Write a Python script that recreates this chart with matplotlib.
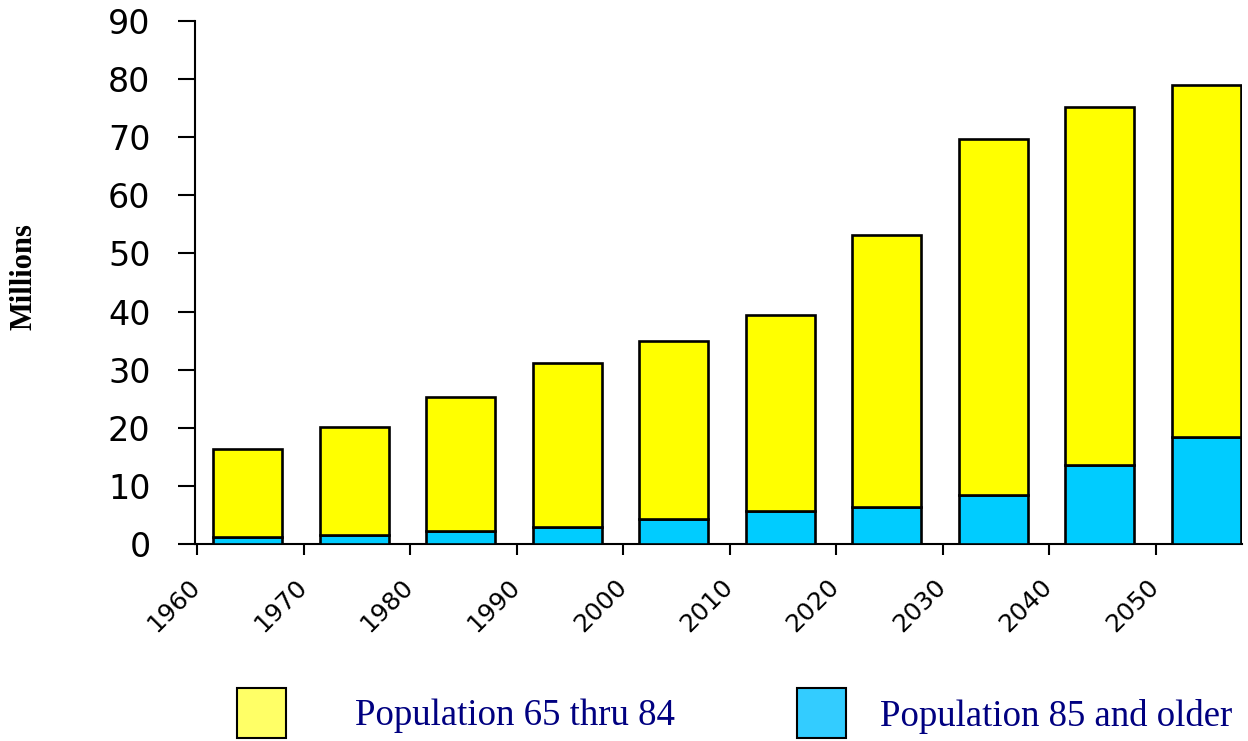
import numpy as np
import matplotlib
matplotlib.use("Agg")
import matplotlib.pyplot as plt
from matplotlib.patches import Rectangle
import matplotlib.transforms as mtransforms

# Population of older Americans, by decade (millions)
years = ["1960", "1970", "1980", "1990", "2000", "2010", "2020", "2030", "2040", "2050"]
pop_85_plus = [1.2, 1.5, 2.2, 2.9, 4.3, 5.7, 6.4, 8.4, 13.6, 18.4]
pop_65_84 = [15.1, 18.6, 23.1, 28.2, 30.6, 33.7, 46.8, 61.3, 61.6, 60.6]
yticks = [0, 10, 20, 30, 40, 50, 60, 70, 80, 90]

legend_labels = ["Population 65 thru 84", "Population 85 and older"]

fig = plt.figure(figsize=(12.48, 7.41), dpi=100)
ax = fig.add_axes([195 / 1248, (741 - 544) / 741, (1242 - 195) / 1248, (544 - 21) / 741])

x = np.arange(len(years))
offset, width = 0.15, 0.65
ax.bar(x + offset, pop_85_plus, width=width, align="edge", color="#00CCFF",
       edgecolor="black", linewidth=1.9, zorder=3)
ax.bar(x + offset, pop_65_84, width=width, bottom=pop_85_plus, align="edge",
       color="#FFFF00", edgecolor="black", linewidth=1.9, zorder=3)

ax.set_xlim(-0.02, 9.81)
ax.set_ylim(0, 90)
ax.set_yticks(yticks)
ax.set_yticklabels([str(v) for v in yticks], fontsize=24, family="DejaVu Sans")
ax.tick_params(axis="y", direction="out", length=12, width=1.5, pad=20)

ax.set_xticks(x)
ax.set_xticklabels(years, rotation=45, ha="right", va="top", fontsize=18,
                   family="DejaVu Sans")
ax.tick_params(axis="x", direction="out", length=8, width=1.5, pad=14)
shift = mtransforms.ScaledTranslation(8 / 100, 0, fig.dpi_scale_trans)
for lbl in ax.get_xticklabels():
    lbl.set_transform(lbl.get_transform() + shift)

for side in ("top", "right"):
    ax.spines[side].set_visible(False)
for side in ("left", "bottom"):
    ax.spines[side].set_linewidth(1.5)

fig.text(24 / 1248, 1 - 277 / 741, "Millions", rotation=90, ha="center", va="center",
         fontsize=22, fontweight="bold", family="Liberation Serif")

# Legend drawn in figure coordinates
W, H = 1248, 741
swatches = [(237, "#FFFF66"), (797, "#33CCFF")]
text_x = [355, 880]
for (sx, col), tx, lab in zip(swatches, text_x, legend_labels):
    fig.patches.append(Rectangle((sx / W, 1 - 738 / H), 49 / W, 50 / H,
                                 transform=fig.transFigure, facecolor=col,
                                 edgecolor="black", linewidth=1.5))
    fig.text(tx / W, 1 - 716 / H, lab, ha="left", va="center", fontsize=26.5,
             color="#000080", family="Liberation Serif")

fig.savefig("out.png", dpi=100)
